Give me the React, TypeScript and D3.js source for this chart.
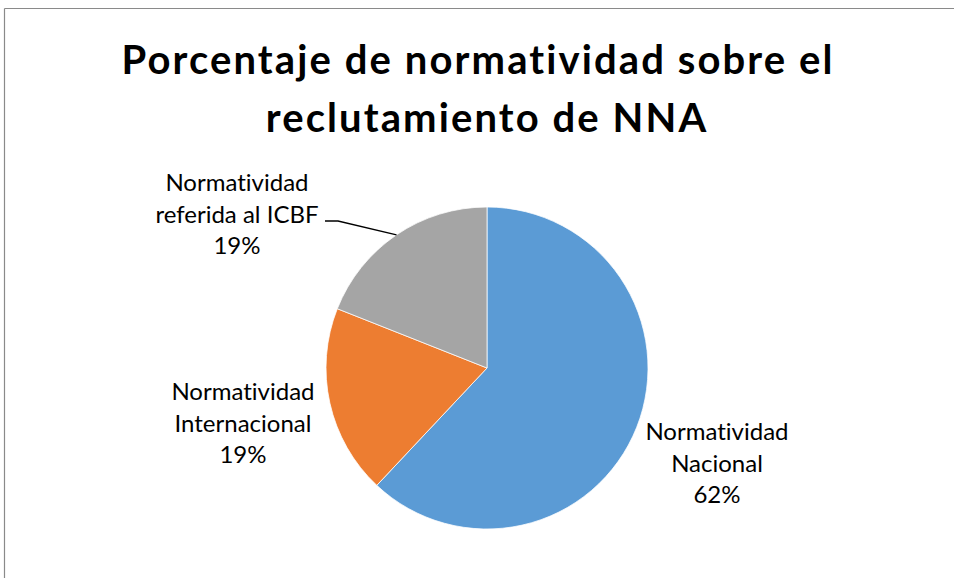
import React from "react";
import * as d3 from "d3";

const categories = ["Normatividad Nacional", "Normatividad Internacional", "Normatividad referida al ICBF"];
const values = [62, 19, 19];
const labelLines = [
  ["Normatividad", "Nacional", "62%"],
  ["Normatividad", "Internacional", "19%"],
  ["Normatividad", "referida al ICBF", "19%"],
];
const colors = ["#5B9BD5", "#ED7D31", "#A5A5A5"];
const titleLines = ["Porcentaje de normatividad sobre el", "reclutamiento de NNA"];

const W = 954;
const H = 578;
const CX = 487;
const CY = 368;
const R = 161;
const FONT = "Lato, 'Open Sans', sans-serif";

// label layout (first-line baseline, center x)
const labelPos = [
  { x: 717, y: 440 },
  { x: 243, y: 400 },
  { x: 237, y: 191 },
];
const lineGap = 31.5;
const titleSpacing = [2.1, 2.1];
const titleCenter = [477, 486];

export default function App() {
  const pie = d3.pie<number>().sort(null).value((d) => d);
  const arcs = pie(values);
  const arc = d3.arc<d3.PieArcDatum<number>>().innerRadius(0).outerRadius(R);

  // leader line for gray slice
  const g = arcs[2];
  const mid = (g.startAngle + g.endAngle) / 2;
  const px = CX + R * Math.sin(mid);
  const py = CY - R * Math.cos(mid);
  const leader = d3.line()([
    [px, py],
    [338, 221],
    [325, 221],
  ]);

  return (
    <svg
      width={W}
      height={H}
      viewBox={`0 0 ${W} ${H}`}
      style={{ position: "absolute", left: 0, top: 0, background: "#fff", fontVariantLigatures: "none" }}
    >
      <rect x={0} y={0} width={W} height={H} fill="#fff" />
      <line x1={4.5} y1={8.5} x2={W} y2={8.5} stroke="#8a8a8a" strokeWidth={1.2} />
      <line x1={4.5} y1={8.5} x2={4.5} y2={H} stroke="#8a8a8a" strokeWidth={1.2} />
      {titleLines.map((t, i) => (
        <text
          key={i}
          x={titleCenter[i] + titleSpacing[i] / 2}
          y={74 + i * 58}
          textAnchor="middle"
          fontFamily={FONT}
          fontWeight={700}
          fontSize={40}
          letterSpacing={titleSpacing[i]}
          fill="#000"
        >
          {t}
        </text>
      ))}
      <g transform={`translate(${CX},${CY})`}>
        {arcs.map((a, i) => (
          <path key={categories[i]} d={arc(a) || ""} fill={colors[i]} stroke="#fff" strokeWidth={0.75} />
        ))}
      </g>
      <path d={leader || ""} fill="none" stroke="#000" strokeWidth={1.3} />
      {labelLines.map((lines, i) => (
        <text
          key={i}
          textAnchor="middle"
          fontFamily={FONT}
          fontSize={24}
          fill="#000"
          style={{ fontVariantLigatures: "none" }}
        >
          {lines.map((l, j) => (
            <tspan key={j} x={labelPos[i].x} y={labelPos[i].y + j * lineGap}>
              {l}
            </tspan>
          ))}
        </text>
      ))}
    </svg>
  );
}
